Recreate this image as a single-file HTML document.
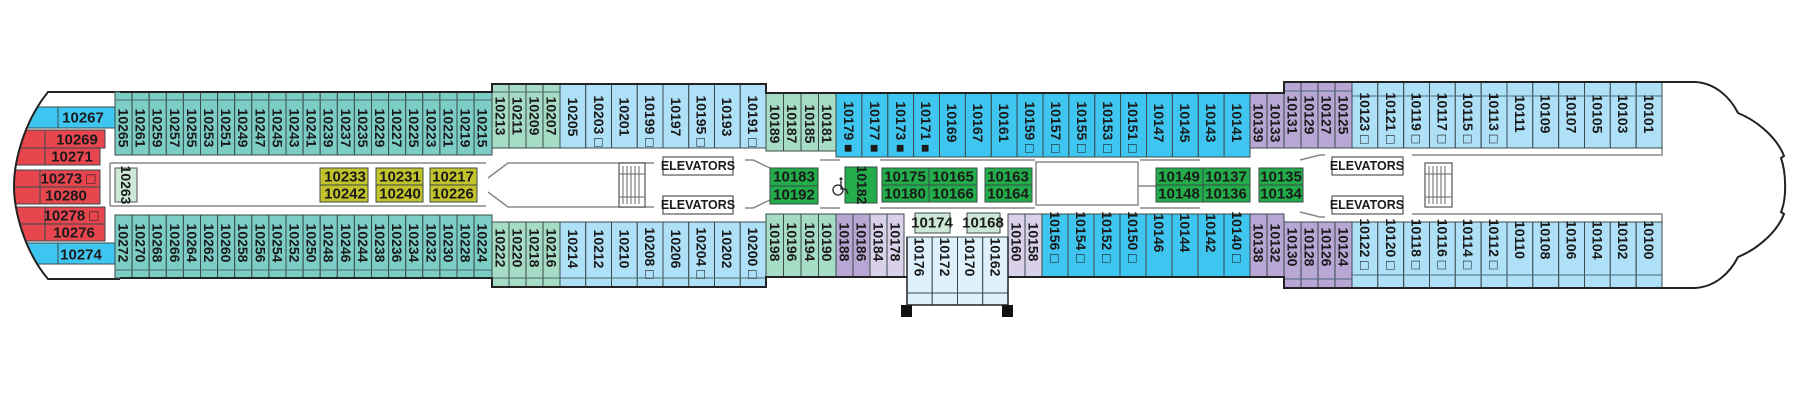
<!DOCTYPE html>
<html><head><meta charset="utf-8">
<style>
html,body{margin:0;padding:0;background:#fff;width:1800px;height:400px;overflow:hidden}
svg{display:block}
text{font-family:"Liberation Sans Narrow","Liberation Sans",sans-serif;font-size:14px;font-weight:bold;fill:#1a1a1a}
.v{text-anchor:middle;dominant-baseline:central}
.h{text-anchor:middle;dominant-baseline:central;font-size:15px}
.c rect{stroke:#3a4a4a;stroke-width:1}
.t{fill:#7ccdc6}.m{fill:#a6dcc6}.lb{fill:#aee0f8}.b{fill:#3ec6f1}.la{fill:#b8a6d4}.ll{fill:#d9d1e9}
.r{fill:#e8464f}.y{fill:#c3c42b}.g{fill:#22ad4a}.pm{fill:#cde8d7}
.el{font-size:12.5px;font-weight:bold;text-anchor:middle;dominant-baseline:central}
</style></head><body>
<svg width="1800" height="400" viewBox="0 0 1800 400" xmlns="http://www.w3.org/2000/svg">
<defs>
<clipPath id="stern"><path d="M48,92 C25,120 14,160 14,186 C14,212 25,252 48,279 L120,279 L120,92 Z"/></clipPath>
</defs>

<g fill="none" stroke="#888" stroke-width="1.5">
<path d="M110,163 H486 M110,206 H486 M110,163 V206"/>
<path d="M488,178 L508,163 H654 M488,192 L508,207 H654"/>
<path d="M745,160 H753 L770,168 M745,208 H753 L770,200"/>
<path d="M820,160 H840 M820,208 H840 M880,160 H1035 M880,208 H1035"/>
<path d="M1036,162 H1138 V205 H1036 Z"/>
<path d="M1138,186 H1156 M1140,160 H1200 M1140,208 H1200"/>
<path d="M1300,160 L1320,155 H1325 M1300,212 L1320,217 H1325 M1412,155 H1662 V147 M1412,214 H1662 V222"/>
</g>

<g class="c" clip-path="url(#stern)">
<rect class="b" x="0" y="107" width="115" height="21"/>
<rect class="r" x="0" y="130" width="105" height="18"/>
<rect class="r" x="0" y="148" width="100" height="17"/>
<rect class="r" x="0" y="170" width="100" height="17"/>
<rect class="r" x="0" y="187" width="100" height="17"/>
<rect class="r" x="0" y="207" width="105" height="17"/>
<rect class="r" x="0" y="224" width="105" height="17"/>
<rect class="b" x="0" y="243" width="115" height="21"/>
<path d="M58,107V128 M45,130V165 M40,170V204 M45,207V241 M58,243V264" stroke="#3a4a4a" fill="none"/>
</g>
<path d="M120,92 H48 C25,120 14,160 14,186 C14,212 25,252 48,279 H120" fill="none" stroke="#222" stroke-width="2"/>
<text class="h" x="83" y="118">10267</text>
<text class="h" x="77" y="140">10269</text>
<text class="h" x="72" y="157">10271</text>
<text class="h" x="68" y="179">10273 □</text>
<text class="h" x="66" y="196">10280</text>
<text class="h" x="71" y="216">10278 □</text>
<text class="h" x="74" y="233">10276</text>
<text class="h" x="81" y="255">10274</text>
<rect class="pm" x="115" y="168" width="22" height="34" stroke="#555"/>
<text class="v" transform="translate(126,185) rotate(90)">10263</text>

<g class="c">
<rect class="t" x="115" y="92" width="17.1" height="63"/><rect class="t" x="132.1" y="92" width="17.1" height="63"/><rect class="t" x="149.2" y="92" width="17.1" height="63"/><rect class="t" x="166.3" y="92" width="17.1" height="63"/><rect class="t" x="183.4" y="92" width="17.1" height="63"/><rect class="t" x="200.5" y="92" width="17.1" height="63"/><rect class="t" x="217.6" y="92" width="17.1" height="63"/><rect class="t" x="234.7" y="92" width="17.1" height="63"/><rect class="t" x="251.8" y="92" width="17.1" height="63"/><rect class="t" x="268.9" y="92" width="17.1" height="63"/><rect class="t" x="286" y="92" width="17.1" height="63"/><rect class="t" x="303.1" y="92" width="17.1" height="63"/><rect class="t" x="320.2" y="92" width="17.1" height="63"/><rect class="t" x="337.3" y="92" width="17.1" height="63"/><rect class="t" x="354.4" y="92" width="17.1" height="63"/><rect class="t" x="371.5" y="92" width="17.1" height="63"/><rect class="t" x="388.6" y="92" width="17.1" height="63"/><rect class="t" x="405.7" y="92" width="17.1" height="63"/><rect class="t" x="422.8" y="92" width="17.1" height="63"/><rect class="t" x="439.9" y="92" width="17.1" height="63"/><rect class="t" x="457" y="92" width="17.1" height="63"/><rect class="t" x="474.1" y="92" width="17.9" height="63"/>
<rect class="t" x="115" y="215" width="17.1" height="63"/><rect class="t" x="132.1" y="215" width="17.1" height="63"/><rect class="t" x="149.2" y="215" width="17.1" height="63"/><rect class="t" x="166.3" y="215" width="17.1" height="63"/><rect class="t" x="183.4" y="215" width="17.1" height="63"/><rect class="t" x="200.5" y="215" width="17.1" height="63"/><rect class="t" x="217.6" y="215" width="17.1" height="63"/><rect class="t" x="234.7" y="215" width="17.1" height="63"/><rect class="t" x="251.8" y="215" width="17.1" height="63"/><rect class="t" x="268.9" y="215" width="17.1" height="63"/><rect class="t" x="286" y="215" width="17.1" height="63"/><rect class="t" x="303.1" y="215" width="17.1" height="63"/><rect class="t" x="320.2" y="215" width="17.1" height="63"/><rect class="t" x="337.3" y="215" width="17.1" height="63"/><rect class="t" x="354.4" y="215" width="17.1" height="63"/><rect class="t" x="371.5" y="215" width="17.1" height="63"/><rect class="t" x="388.6" y="215" width="17.1" height="63"/><rect class="t" x="405.7" y="215" width="17.1" height="63"/><rect class="t" x="422.8" y="215" width="17.1" height="63"/><rect class="t" x="439.9" y="215" width="17.1" height="63"/><rect class="t" x="457" y="215" width="17.1" height="63"/><rect class="t" x="474.1" y="215" width="17.9" height="63"/>
</g>
<path d="M115,100H492 M115,270H492" stroke="#4a6a6a" stroke-width="1"/>
<g>
<text class="v" transform="translate(123.5,128) rotate(90)">10265</text><text class="v" transform="translate(140.6,128) rotate(90)">10261</text><text class="v" transform="translate(157.7,128) rotate(90)">10259</text><text class="v" transform="translate(174.8,128) rotate(90)">10257</text><text class="v" transform="translate(191.9,128) rotate(90)">10255</text><text class="v" transform="translate(209,128) rotate(90)">10253</text><text class="v" transform="translate(226.1,128) rotate(90)">10251</text><text class="v" transform="translate(243.2,128) rotate(90)">10249</text><text class="v" transform="translate(260.3,128) rotate(90)">10247</text><text class="v" transform="translate(277.4,128) rotate(90)">10245</text><text class="v" transform="translate(294.5,128) rotate(90)">10243</text><text class="v" transform="translate(311.6,128) rotate(90)">10241</text><text class="v" transform="translate(328.7,128) rotate(90)">10239</text><text class="v" transform="translate(345.8,128) rotate(90)">10237</text><text class="v" transform="translate(362.9,128) rotate(90)">10235</text><text class="v" transform="translate(380,128) rotate(90)">10229</text><text class="v" transform="translate(397.1,128) rotate(90)">10227</text><text class="v" transform="translate(414.2,128) rotate(90)">10225</text><text class="v" transform="translate(431.3,128) rotate(90)">10223</text><text class="v" transform="translate(448.4,128) rotate(90)">10221</text><text class="v" transform="translate(465.5,128) rotate(90)">10219</text><text class="v" transform="translate(482.6,128) rotate(90)">10215</text>
<text class="v" transform="translate(123.5,243) rotate(90)">10272</text><text class="v" transform="translate(140.6,243) rotate(90)">10270</text><text class="v" transform="translate(157.7,243) rotate(90)">10268</text><text class="v" transform="translate(174.8,243) rotate(90)">10266</text><text class="v" transform="translate(191.9,243) rotate(90)">10264</text><text class="v" transform="translate(209,243) rotate(90)">10262</text><text class="v" transform="translate(226.1,243) rotate(90)">10260</text><text class="v" transform="translate(243.2,243) rotate(90)">10258</text><text class="v" transform="translate(260.3,243) rotate(90)">10256</text><text class="v" transform="translate(277.4,243) rotate(90)">10254</text><text class="v" transform="translate(294.5,243) rotate(90)">10252</text><text class="v" transform="translate(311.6,243) rotate(90)">10250</text><text class="v" transform="translate(328.7,243) rotate(90)">10248</text><text class="v" transform="translate(345.8,243) rotate(90)">10246</text><text class="v" transform="translate(362.9,243) rotate(90)">10244</text><text class="v" transform="translate(380,243) rotate(90)">10238</text><text class="v" transform="translate(397.1,243) rotate(90)">10236</text><text class="v" transform="translate(414.2,243) rotate(90)">10234</text><text class="v" transform="translate(431.3,243) rotate(90)">10232</text><text class="v" transform="translate(448.4,243) rotate(90)">10230</text><text class="v" transform="translate(465.5,243) rotate(90)">10228</text><text class="v" transform="translate(482.6,243) rotate(90)">10224</text>
</g>

<g class="c">
<rect class="y" x="320" y="168" width="48" height="17"/><rect class="y" x="320" y="185" width="48" height="17"/>
<rect class="y" x="376" y="168" width="47" height="17"/><rect class="y" x="376" y="185" width="47" height="17"/>
<rect class="y" x="430" y="168" width="47" height="17"/><rect class="y" x="430" y="185" width="47" height="17"/>
</g>
<text class="h" x="345" y="177">10233</text><text class="h" x="345" y="194">10242</text>
<text class="h" x="400" y="177">10231</text><text class="h" x="400" y="194">10240</text>
<text class="h" x="453" y="177">10217</text><text class="h" x="453" y="194">10226</text>

<g class="c">
<rect class="m" x="492" y="84" width="17" height="64"/><rect class="m" x="509" y="84" width="17" height="64"/><rect class="m" x="526" y="84" width="17" height="64"/><rect class="m" x="543" y="84" width="17" height="64"/>
<rect class="m" x="492" y="222" width="17" height="65"/><rect class="m" x="509" y="222" width="17" height="65"/><rect class="m" x="526" y="222" width="17" height="65"/><rect class="m" x="543" y="222" width="17" height="65"/>
<rect class="lb" x="560" y="84" width="25.75" height="64"/><rect class="lb" x="585.75" y="84" width="25.75" height="64"/><rect class="lb" x="611.5" y="84" width="25.75" height="64"/><rect class="lb" x="637.25" y="84" width="25.75" height="64"/><rect class="lb" x="663" y="84" width="25.75" height="64"/><rect class="lb" x="688.75" y="84" width="25.75" height="64"/><rect class="lb" x="714.5" y="84" width="25.75" height="64"/><rect class="lb" x="740.25" y="84" width="25.75" height="64"/>
<rect class="lb" x="560" y="222" width="25.75" height="65"/><rect class="lb" x="585.75" y="222" width="25.75" height="65"/><rect class="lb" x="611.5" y="222" width="25.75" height="65"/><rect class="lb" x="637.25" y="222" width="25.75" height="65"/><rect class="lb" x="663" y="222" width="25.75" height="65"/><rect class="lb" x="688.75" y="222" width="25.75" height="65"/><rect class="lb" x="714.5" y="222" width="25.75" height="65"/><rect class="lb" x="740.25" y="222" width="25.75" height="65"/>
</g>
<path d="M492,92H560 M492,278H766" stroke="#4a6a6a"/>
<g>
<text class="v" transform="translate(500.5,116) rotate(90)">10213</text><text class="v" transform="translate(517.5,116) rotate(90)">10211</text><text class="v" transform="translate(534.5,116) rotate(90)">10209</text><text class="v" transform="translate(551.5,116) rotate(90)">10207</text>
<text class="v" transform="translate(500.5,248) rotate(90)">10222</text><text class="v" transform="translate(517.5,248) rotate(90)">10220</text><text class="v" transform="translate(534.5,248) rotate(90)">10218</text><text class="v" transform="translate(551.5,248) rotate(90)">10216</text>
<text class="v" transform="translate(573,117) rotate(90)">10205</text><text class="v" transform="translate(599,121) rotate(90)">10203 □</text><text class="v" transform="translate(624.5,117) rotate(90)">10201</text><text class="v" transform="translate(650,121) rotate(90)">10199 □</text><text class="v" transform="translate(676,117) rotate(90)">10197</text><text class="v" transform="translate(701.5,121) rotate(90)">10195 □</text><text class="v" transform="translate(727,117) rotate(90)">10193</text><text class="v" transform="translate(753,121) rotate(90)">10191 □</text>
<text class="v" transform="translate(573,249) rotate(90)">10214</text><text class="v" transform="translate(599,249) rotate(90)">10212</text><text class="v" transform="translate(624.5,249) rotate(90)">10210</text><text class="v" transform="translate(650,253) rotate(90)">10208 □</text><text class="v" transform="translate(676,249) rotate(90)">10206</text><text class="v" transform="translate(701.5,253) rotate(90)">10204 □</text><text class="v" transform="translate(727,249) rotate(90)">10202</text><text class="v" transform="translate(753,253) rotate(90)">10200 □</text>
</g>

<g fill="#fff" stroke="#555" stroke-width="1.2">
<rect x="663" y="157" width="70" height="18"/><rect x="663" y="196" width="70" height="18"/>
<rect x="1332" y="157" width="71" height="18"/><rect x="1332" y="196" width="71" height="18"/>
<rect x="619" y="163" width="26" height="44"/><rect x="1425" y="163" width="27" height="44"/>
</g>
<g stroke="#666" stroke-width="1">
<path d="M623,166V204 M627,166V204 M631,166V204 M635,166V204 M639,166V204 M619,174H645 M619,197H645"/>
<path d="M1429,166V204 M1433,166V204 M1437,166V204 M1441,166V204 M1445,166V204 M1425,174H1452 M1425,197H1452"/>
</g>
<text class="el" x="698" y="166">ELEVATORS</text><text class="el" x="698" y="205">ELEVATORS</text>
<text class="el" x="1367" y="166">ELEVATORS</text><text class="el" x="1367" y="205">ELEVATORS</text>

<g class="c">
<rect class="m" x="766" y="93" width="17.5" height="58"/><rect class="m" x="783.5" y="93" width="17.5" height="58"/><rect class="m" x="801" y="93" width="17.5" height="58"/><rect class="m" x="818.5" y="93" width="17.5" height="58"/>
<rect class="m" x="766" y="214" width="17.5" height="63"/><rect class="m" x="783.5" y="214" width="17.5" height="63"/><rect class="m" x="801" y="214" width="17.5" height="63"/><rect class="m" x="818.5" y="214" width="17.5" height="63"/>
</g>
<g>
<text class="v" transform="translate(775,124) rotate(90)">10189</text><text class="v" transform="translate(792,124) rotate(90)">10187</text><text class="v" transform="translate(810,124) rotate(90)">10185</text><text class="v" transform="translate(827,124) rotate(90)">10181</text>
<text class="v" transform="translate(775,242) rotate(90)">10198</text><text class="v" transform="translate(792,242) rotate(90)">10196</text><text class="v" transform="translate(810,242) rotate(90)">10194</text><text class="v" transform="translate(827,242) rotate(90)">10190</text>
</g>

<g class="c">
<rect class="b" x="836" y="93" width="25.9" height="64"/><rect class="b" x="861.9" y="93" width="25.9" height="64"/><rect class="b" x="887.8" y="93" width="25.9" height="64"/><rect class="b" x="913.6" y="93" width="25.9" height="64"/><rect class="b" x="939.5" y="93" width="25.9" height="64"/><rect class="b" x="965.4" y="93" width="25.9" height="64"/><rect class="b" x="991.3" y="93" width="25.9" height="64"/><rect class="b" x="1017.1" y="93" width="25.9" height="64"/><rect class="b" x="1043" y="93" width="25.9" height="64"/><rect class="b" x="1068.9" y="93" width="25.9" height="64"/><rect class="b" x="1094.8" y="93" width="25.9" height="64"/><rect class="b" x="1120.6" y="93" width="25.9" height="64"/><rect class="b" x="1146.5" y="93" width="25.9" height="64"/><rect class="b" x="1172.4" y="93" width="25.9" height="64"/><rect class="b" x="1198.3" y="93" width="25.9" height="64"/><rect class="b" x="1224.1" y="93" width="25.9" height="64"/>
</g>
<g>
<text class="v" transform="translate(849,127) rotate(90)">10179 ■</text><text class="v" transform="translate(875,127) rotate(90)">10177 ■</text><text class="v" transform="translate(901,127) rotate(90)">10173 ■</text><text class="v" transform="translate(926,127) rotate(90)">10171 ■</text><text class="v" transform="translate(952,123) rotate(90)">10169</text><text class="v" transform="translate(978,123) rotate(90)">10167</text><text class="v" transform="translate(1004,123) rotate(90)">10161</text><text class="v" transform="translate(1030,127) rotate(90)">10159 □</text><text class="v" transform="translate(1056,127) rotate(90)">10157 □</text><text class="v" transform="translate(1082,127) rotate(90)">10155 □</text><text class="v" transform="translate(1108,127) rotate(90)">10153 □</text><text class="v" transform="translate(1133,127) rotate(90)">10151 □</text><text class="v" transform="translate(1159,123) rotate(90)">10147</text><text class="v" transform="translate(1185,123) rotate(90)">10145</text><text class="v" transform="translate(1211,123) rotate(90)">10143</text><text class="v" transform="translate(1237,123) rotate(90)">10141</text>
</g>

<g class="c">
<rect class="g" x="770" y="168" width="48" height="18"/><rect class="g" x="770" y="186" width="48" height="18"/>
<rect class="g" x="845" y="167" width="32" height="36"/>
<rect class="g" x="882" y="168" width="47" height="17"/><rect class="g" x="882" y="185" width="47" height="17"/>
<rect class="g" x="929" y="168" width="48" height="17"/><rect class="g" x="929" y="185" width="48" height="17"/>
<rect class="g" x="985" y="168" width="47" height="17"/><rect class="g" x="985" y="185" width="47" height="17"/>
<rect class="g" x="1156" y="168" width="47" height="17"/><rect class="g" x="1156" y="185" width="47" height="17"/>
<rect class="g" x="1203" y="168" width="47" height="17"/><rect class="g" x="1203" y="185" width="47" height="17"/>
<rect class="g" x="1259" y="168" width="44" height="17"/><rect class="g" x="1259" y="185" width="44" height="17"/>
</g>
<text class="h" x="794" y="177">10183</text><text class="h" x="794" y="195">10192</text>
<text class="v" transform="translate(862,185) rotate(90)">10182</text>
<g fill="none" stroke="#222" stroke-width="1.3">
<circle cx="838" cy="190" r="5"/><path d="M841,181V189H846L848,194"/>
</g>
<circle cx="841" cy="179" r="1.5" fill="#222"/>
<text class="h" x="905" y="177">10175</text><text class="h" x="905" y="194">10180</text>
<text class="h" x="953" y="177">10165</text><text class="h" x="953" y="194">10166</text>
<text class="h" x="1008" y="177">10163</text><text class="h" x="1008" y="194">10164</text>
<text class="h" x="1179" y="177">10149</text><text class="h" x="1179" y="194">10148</text>
<text class="h" x="1226" y="177">10137</text><text class="h" x="1226" y="194">10136</text>
<text class="h" x="1281" y="177">10135</text><text class="h" x="1281" y="194">10134</text>

<g class="c">
<rect class="la" x="836" y="214" width="17" height="63"/><rect class="la" x="853" y="214" width="17" height="63"/>
<rect class="ll" x="870" y="214" width="17" height="63"/><rect class="ll" x="887" y="214" width="17" height="63"/>
<rect fill="#ddf0fc" x="907" y="237" width="25.25" height="56"/><rect fill="#ddf0fc" x="932.25" y="237" width="25.25" height="56"/><rect fill="#ddf0fc" x="957.5" y="237" width="25.25" height="56"/><rect fill="#ddf0fc" x="982.75" y="237" width="25.25" height="56"/>
<rect fill="#ddf0fc" x="907" y="293" width="25.25" height="12"/><rect fill="#ddf0fc" x="932.25" y="293" width="25.25" height="12"/><rect fill="#ddf0fc" x="957.5" y="293" width="25.25" height="12"/><rect fill="#ddf0fc" x="982.75" y="293" width="25.25" height="12"/>
<rect class="pm" x="915" y="213" width="35" height="20"/><rect class="pm" x="967" y="213" width="33" height="20"/>
<rect class="ll" x="1008" y="214" width="17" height="63"/><rect class="ll" x="1025" y="214" width="17" height="63"/>
<rect class="b" x="1042" y="214" width="26" height="63"/><rect class="b" x="1068" y="214" width="26" height="63"/><rect class="b" x="1094" y="214" width="26" height="63"/><rect class="b" x="1120" y="214" width="26" height="63"/><rect class="b" x="1146" y="214" width="26" height="63"/><rect class="b" x="1172" y="214" width="26" height="63"/><rect class="b" x="1198" y="214" width="26" height="63"/><rect class="b" x="1224" y="214" width="26" height="63"/>
</g>
<rect x="901" y="305" width="11" height="12" fill="#111"/><rect x="1002" y="305" width="11" height="12" fill="#111"/>
<path d="M907,305H1008 M907,237V305 M1008,237V305" stroke="#222" stroke-width="1.5" fill="none"/>
<g>
<text class="v" transform="translate(844.5,242) rotate(90)">10188</text><text class="v" transform="translate(861.5,242) rotate(90)">10186</text><text class="v" transform="translate(878.5,242) rotate(90)">10184</text><text class="v" transform="translate(895.5,242) rotate(90)">10178</text>
<text class="h" x="932" y="223">10174</text><text class="h" x="983" y="223">10168</text>
<text class="v" transform="translate(919.5,257) rotate(90)">10176</text><text class="v" transform="translate(945,257) rotate(90)">10172</text><text class="v" transform="translate(970,257) rotate(90)">10170</text><text class="v" transform="translate(995.5,257) rotate(90)">10162</text>
<text class="v" transform="translate(1016.5,242) rotate(90)">10160</text><text class="v" transform="translate(1033.5,242) rotate(90)">10158</text>
<text class="v" transform="translate(1055,237) rotate(90)">10156 □</text><text class="v" transform="translate(1081,237) rotate(90)">10154 □</text><text class="v" transform="translate(1107,237) rotate(90)">10152 □</text><text class="v" transform="translate(1133,237) rotate(90)">10150 □</text><text class="v" transform="translate(1159,233) rotate(90)">10146</text><text class="v" transform="translate(1185,233) rotate(90)">10144</text><text class="v" transform="translate(1211,233) rotate(90)">10142</text><text class="v" transform="translate(1237,237) rotate(90)">10140 □</text>
</g>

<g class="c">
<rect class="la" x="1250" y="93" width="17" height="55"/><rect class="la" x="1267" y="93" width="17" height="55"/>
<rect class="la" x="1284" y="82" width="17" height="66"/><rect class="la" x="1301" y="82" width="17" height="66"/><rect class="la" x="1318" y="82" width="17" height="66"/><rect class="la" x="1335" y="82" width="17" height="66"/>
<rect class="la" x="1250" y="214" width="17" height="63"/><rect class="la" x="1267" y="214" width="17" height="63"/>
<rect class="la" x="1284" y="222" width="17" height="66"/><rect class="la" x="1301" y="222" width="17" height="66"/><rect class="la" x="1318" y="222" width="17" height="66"/><rect class="la" x="1335" y="222" width="17" height="66"/>
<rect class="lb" x="1352" y="82" width="25.8" height="66"/><rect class="lb" x="1377.8" y="82" width="25.8" height="66"/><rect class="lb" x="1403.7" y="82" width="25.8" height="66"/><rect class="lb" x="1429.5" y="82" width="25.8" height="66"/><rect class="lb" x="1455.3" y="82" width="25.8" height="66"/><rect class="lb" x="1481.2" y="82" width="25.8" height="66"/><rect class="lb" x="1507" y="82" width="25.8" height="66"/><rect class="lb" x="1532.8" y="82" width="25.8" height="66"/><rect class="lb" x="1558.7" y="82" width="25.8" height="66"/><rect class="lb" x="1584.5" y="82" width="25.8" height="66"/><rect class="lb" x="1610.3" y="82" width="25.8" height="66"/><rect class="lb" x="1636.2" y="82" width="25.8" height="66"/>
<rect class="lb" x="1352" y="222" width="25.8" height="66"/><rect class="lb" x="1377.8" y="222" width="25.8" height="66"/><rect class="lb" x="1403.7" y="222" width="25.8" height="66"/><rect class="lb" x="1429.5" y="222" width="25.8" height="66"/><rect class="lb" x="1455.3" y="222" width="25.8" height="66"/><rect class="lb" x="1481.2" y="222" width="25.8" height="66"/><rect class="lb" x="1507" y="222" width="25.8" height="66"/><rect class="lb" x="1532.8" y="222" width="25.8" height="66"/><rect class="lb" x="1558.7" y="222" width="25.8" height="66"/><rect class="lb" x="1584.5" y="222" width="25.8" height="66"/><rect class="lb" x="1610.3" y="222" width="25.8" height="66"/><rect class="lb" x="1636.2" y="222" width="25.8" height="66"/>
</g>
<path d="M1284,91H1352 M1352,96H1662 M1284,279H1352 M1352,275H1662" stroke="#4a6a7a"/>
<g>
<text class="v" transform="translate(1258.5,123) rotate(90)">10139</text><text class="v" transform="translate(1275.5,123) rotate(90)">10133</text>
<text class="v" transform="translate(1292.5,115) rotate(90)">10131</text><text class="v" transform="translate(1309.5,115) rotate(90)">10129</text><text class="v" transform="translate(1326.5,115) rotate(90)">10127</text><text class="v" transform="translate(1343.5,115) rotate(90)">10125</text>
<text class="v" transform="translate(1258.5,243) rotate(90)">10138</text><text class="v" transform="translate(1275.5,243) rotate(90)">10132</text>
<text class="v" transform="translate(1292.5,247) rotate(90)">10130</text><text class="v" transform="translate(1309.5,247) rotate(90)">10128</text><text class="v" transform="translate(1326.5,247) rotate(90)">10126</text><text class="v" transform="translate(1343.5,247) rotate(90)">10124</text>
<text class="v" transform="translate(1365,118) rotate(90)">10123 □</text><text class="v" transform="translate(1391,118) rotate(90)">10121 □</text><text class="v" transform="translate(1416.5,118) rotate(90)">10119 □</text><text class="v" transform="translate(1442.5,118) rotate(90)">10117 □</text><text class="v" transform="translate(1468,118) rotate(90)">10115 □</text><text class="v" transform="translate(1494,118) rotate(90)">10113 □</text><text class="v" transform="translate(1520,114) rotate(90)">10111</text><text class="v" transform="translate(1545.5,114) rotate(90)">10109</text><text class="v" transform="translate(1571.5,114) rotate(90)">10107</text><text class="v" transform="translate(1597.5,114) rotate(90)">10105</text><text class="v" transform="translate(1623,114) rotate(90)">10103</text><text class="v" transform="translate(1649,114) rotate(90)">10101</text>
<text class="v" transform="translate(1365,244) rotate(90)">10122 □</text><text class="v" transform="translate(1391,244) rotate(90)">10120 □</text><text class="v" transform="translate(1416.5,244) rotate(90)">10118 □</text><text class="v" transform="translate(1442.5,244) rotate(90)">10116 □</text><text class="v" transform="translate(1468,244) rotate(90)">10114 □</text><text class="v" transform="translate(1494,244) rotate(90)">10112 □</text><text class="v" transform="translate(1520,240) rotate(90)">10110</text><text class="v" transform="translate(1545.5,240) rotate(90)">10108</text><text class="v" transform="translate(1571.5,240) rotate(90)">10106</text><text class="v" transform="translate(1597.5,240) rotate(90)">10104</text><text class="v" transform="translate(1623,240) rotate(90)">10102</text><text class="v" transform="translate(1649,240) rotate(90)">10100</text>
</g>

<path d="M120,92 H492 V84 H766 V93 H1284 V82 H1695 C1715,83 1730,97 1738,113 C1760,122 1778,140 1784,156 L1781,158 C1786,172 1787,198 1781,212 L1784,214 C1778,230 1760,248 1738,257 C1730,273 1715,287 1695,288 H1352 V288 H1284 V277 H1008 M907,277 H766 V287 H492 V278 H120" fill="none" stroke="#222" stroke-width="2"/>
</svg>
</body></html>
